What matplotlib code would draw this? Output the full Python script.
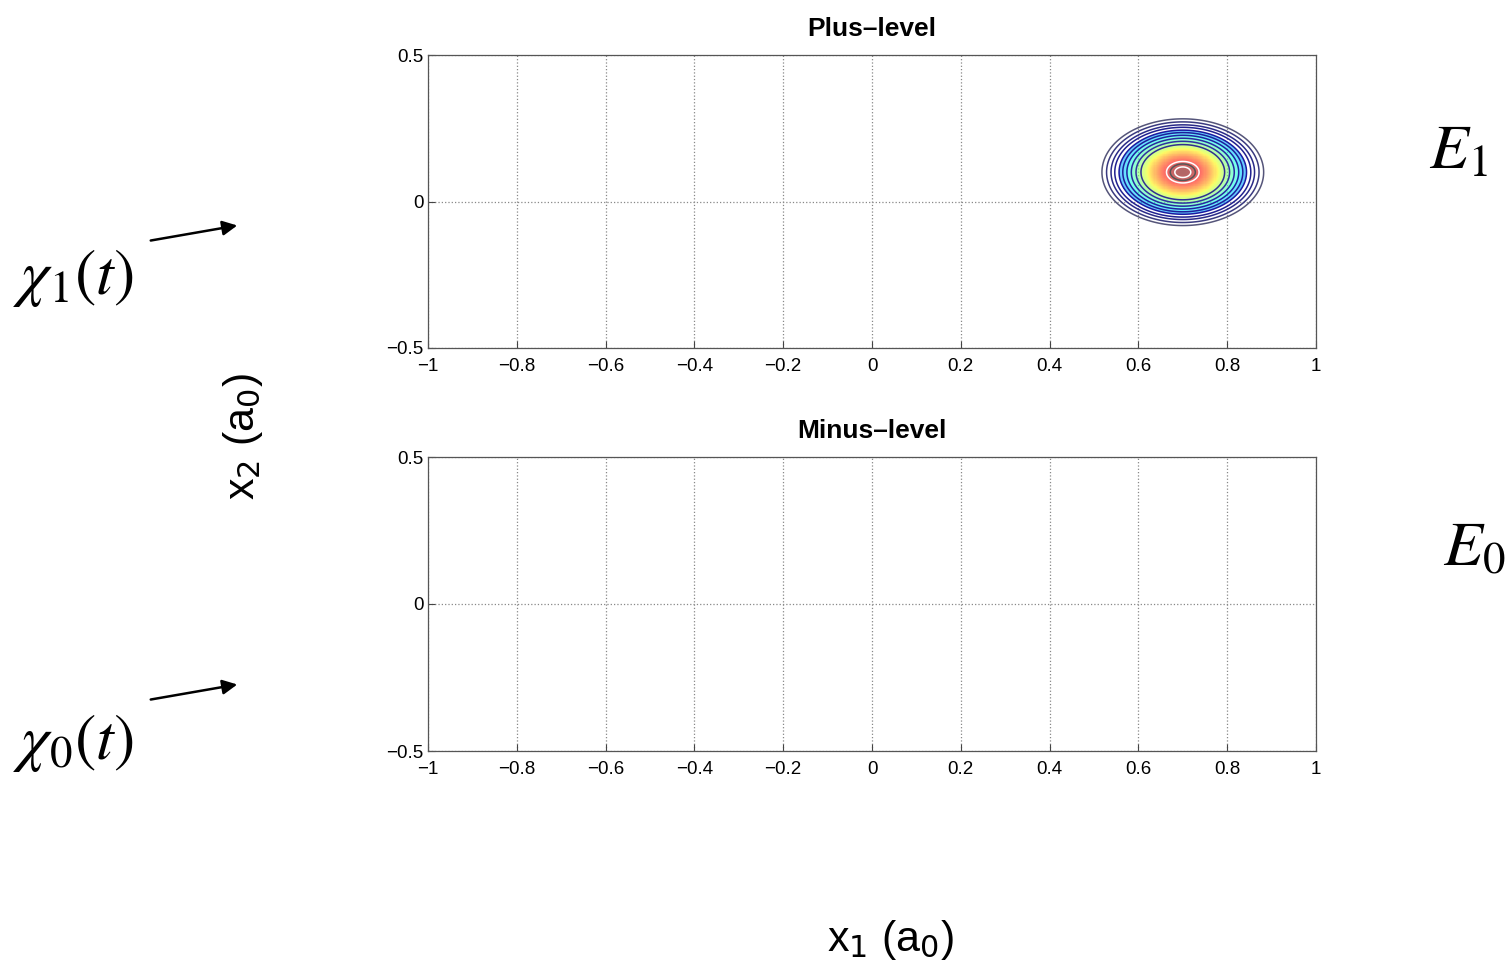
import matplotlib.pyplot as plt
import numpy as np

# wavepacket parameters
center_x = 0.7
center_y = 0.1
width = 0.08
line_levels = [0.075, 0.10, 0.13, 0.16, 0.20, 0.24, 0.29, 0.35, 0.42, 0.50, 0.90, 0.94, 0.975]
fill_min = 0.2

x_ticks = [-1, -0.8, -0.6, -0.4, -0.2, 0, 0.2, 0.4, 0.6, 0.8, 1]
x_labels = ['\u22121', '\u22120.8', '\u22120.6', '\u22120.4', '\u22120.2', '0', '0.2', '0.4', '0.6', '0.8', '1']
y_ticks = [-0.5, 0, 0.5]
y_labels = ['\u22120.5', '0', '0.5']
titles = ['Plus\u2013level', 'Minus\u2013level']

plt.rcParams['font.family'] = ['Liberation Sans', 'DejaVu Sans']
plt.rcParams['mathtext.fontset'] = 'stix'

W, H = 1509, 966
fig = plt.figure(figsize=(W / 100, H / 100), dpi=100)

def px_box(x0, y0, x1, y1):
    return [x0 / W, 1 - y1 / H, (x1 - x0) / W, (y1 - y0) / H]

ax_top = fig.add_axes(px_box(428, 55, 1316, 348))
ax_bot = fig.add_axes(px_box(428, 457, 1316, 751))

for ax, title in zip([ax_top, ax_bot], titles):
    ax.set_xlim(-1, 1)
    ax.set_ylim(-0.5, 0.5)
    ax.set_xticks(x_ticks)
    ax.set_xticklabels(x_labels, fontsize=13.5)
    ax.set_yticks(y_ticks)
    ax.set_yticklabels(y_labels, fontsize=13.5)
    ax.tick_params(direction='in', length=5, width=0.8, color='#444444')
    ax.tick_params(axis='x', pad=7)
    ax.tick_params(axis='y', pad=3)
    ax.grid(True, linestyle=':', color='#888888', linewidth=0.9)
    for s in ax.spines.values():
        s.set_color('#555555')
        s.set_linewidth(0.9)
    ax.set_title(title, fontsize=19, fontweight='bold', pad=14)

# wavepacket on the plus level
gx = np.linspace(-1, 1, 801)
gy = np.linspace(-0.5, 0.5, 401)
X, Y = np.meshgrid(gx, gy)
Z = np.exp(-((X - center_x) ** 2 + (Y - center_y) ** 2) / (2 * width ** 2))
Zm = np.ma.masked_less(Z, fill_min)
ax_top.pcolormesh(X, Y, Zm, cmap='jet', vmin=-0.1, vmax=1.0, alpha=0.6,
                  shading='auto', zorder=2, rasterized=True)
line_colors = ['#55557a', '#3a3a80', '#2a2a88', '#202090', '#1a1aa0', '#1e1e9a',
               '#2020a0', '#2828a0', '#3030a0', '#303090', '#ffffff', '#555555', '#ffffff']
ax_top.contour(X, Y, Z, levels=line_levels, colors=line_colors, linewidths=1.1, zorder=3)

# axis labels
fig.text(890 / W, 1 - 940 / H, r'x$_1$ (a$_0$)', fontsize=31, ha='center', va='center',
         math_fontfamily='dejavusans')
fig.text(243 / W, 1 - 437 / H, r'x$_2$ (a$_0$)', fontsize=31, ha='center', va='center',
         rotation=90, math_fontfamily='dejavusans')

# state labels
fig.text(73 / W, 1 - 278 / H, r'$\chi_1(t)$', fontsize=46, ha='center', va='center')
fig.text(73 / W, 1 - 743 / H, r'$\chi_0(t)$', fontsize=46, ha='center', va='center')
fig.text(1458 / W, 1 - 152 / H, r'$E_1$', fontsize=46, ha='center', va='center')
fig.text(1474 / W, 1 - 548 / H, r'$E_0$', fontsize=46, ha='center', va='center')

for (x0, y0, x1, y1) in [(148, 241, 240, 225), (148, 700, 240, 684)]:
    fig.add_artist(plt.Annotation('', xy=(x1 / W, 1 - y1 / H), xytext=(x0 / W, 1 - y0 / H),
                                  xycoords='figure fraction',
                                  arrowprops=dict(arrowstyle='-|>', color='black', lw=1.8,
                                                  mutation_scale=22)))

fig.savefig('out.png', dpi=100)
